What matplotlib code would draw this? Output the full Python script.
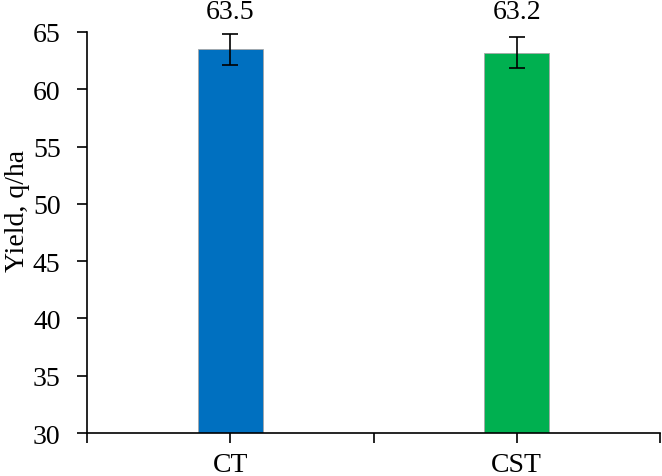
import matplotlib.pyplot as plt

plt.rcParams['font.family'] = ['Liberation Serif', 'DejaVu Serif']

categories = ['CT', 'CST']
yields = [63.5, 63.2]
errors = [1.35, 1.35]
colors = ['#0070C0', '#00B050']

fig = plt.figure(figsize=(6.62, 4.77), dpi=100)
ax = fig.add_axes([0.1314, 0.0901, 0.8656, 0.8408])

x = list(range(len(categories)))
ax.bar(x, yields, width=0.227, color=colors, edgecolor='#a6a6a6', linewidth=0.6, zorder=2)
ax.errorbar(x, yields, yerr=errors, fmt='none', ecolor='black', elinewidth=1.2,
            capsize=6, capthick=1.2, zorder=3)

for xi, v in zip(x, yields):
    ax.text(xi, 66.8, f'{v:.1f}', ha='center', va='center', fontsize=20, clip_on=False)

ax.set_xlim(-0.5, 1.5)
ax.set_ylim(30, 65)
ax.set_yticks(range(30, 66, 5))
ax.set_xticks([-0.5, 0, 0.5, 1, 1.5])
ax.set_xticklabels(['', 'CT', '', 'CST', ''])
ax.set_ylabel('Yield, q/ha', fontsize=20)
ax.yaxis.set_label_coords(-0.099, 0.556)

for s in ['top', 'right']:
    ax.spines[s].set_visible(False)
ax.spines['left'].set_linewidth(1.2)
ax.spines['bottom'].set_linewidth(1.2)
ax.tick_params(axis='both', direction='out', length=7, width=1.2, labelsize=20)
ax.tick_params(axis='y', pad=12)
ax.tick_params(axis='x', pad=7)

fig.savefig('out.png', dpi=100)
